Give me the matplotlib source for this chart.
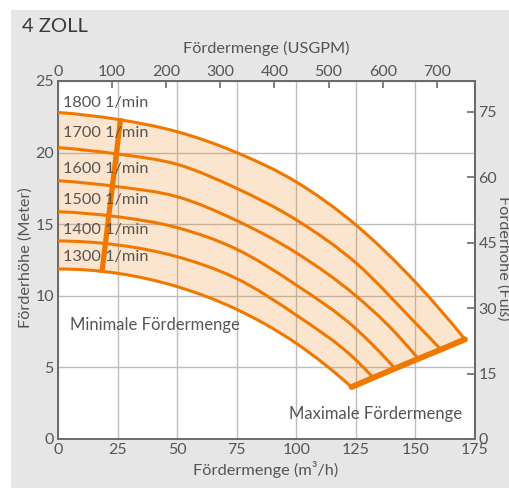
import matplotlib
matplotlib.use("Agg")
import matplotlib.pyplot as plt
from matplotlib.patches import Rectangle, PathPatch
from matplotlib.path import Path
import numpy as np

plt.rcParams['font.family'] = ['Lato', 'DejaVu Sans']

# ---- data ----
speeds = ["1800 1/min", "1700 1/min", "1600 1/min", "1500 1/min", "1400 1/min", "1300 1/min"]

q1800 = [0, 25, 50, 75, 100, 125, 150, 170.8]
h1800 = [22.8, 22.32, 21.46, 20.0, 17.95, 14.95, 10.95, 6.96]
q1700 = [0, 25, 50, 75, 100, 125, 150, 160.7]
h1700 = [20.35, 19.9, 19.18, 17.5, 15.3, 12.3, 8.1, 6.25]
q1600 = [0, 25, 50, 75, 100, 125, 137.9, 151.2]
h1600 = [18.04, 17.62, 16.92, 15.25, 13.0, 10.0, 8.05, 5.6]
q1500 = [0, 25, 50, 75, 100, 125, 141.4]
h1500 = [15.87, 15.52, 14.76, 13.25, 10.75, 7.7, 4.92]
q1400 = [0, 25, 50, 75, 100, 125, 132.3]
h1400 = [13.83, 13.55, 12.73, 11.2, 8.65, 5.52, 4.28]
q1300 = [0, 25, 50, 75, 100, 123.2]
h1300 = [11.87, 11.57, 10.64, 9.05, 6.68, 3.63]

curves_q = [q1800, q1700, q1600, q1500, q1400, q1300]
curves_h = [h1800, h1700, h1600, h1500, h1400, h1300]

label_h = [23.45, 21.35, 18.85, 16.7, 14.6, 12.7]

min_q = [26.3, 18.4]
min_h = [22.4, 11.6]

x_ticks = [0, 25, 50, 75, 100, 125, 150, 175]
y_ticks = [0, 5, 10, 15, 20, 25]
gpm_ticks = [0, 100, 200, 300, 400, 500, 600, 700]
ft_ticks = [0, 15, 30, 45, 60, 75]

M3H_TO_GPM = 4.403
M_TO_FT = 3.281

ORANGE = '#f07800'
TXT = '#555555'
FS = 11.5


def smooth_verts(q, h):
    """Bezier vertices of a smooth curve (cubic Hermite) through the given points."""
    x = np.asarray(q, float)
    y = np.asarray(h, float)
    n = len(x)
    d = np.diff(x)
    s = np.diff(y) / d
    m = np.empty(n)
    for i in range(1, n - 1):
        m[i] = (d[i] * s[i - 1] + d[i - 1] * s[i]) / (d[i - 1] + d[i])
    m[0] = ((2 * d[0] + d[1]) * s[0] - d[0] * s[1]) / (d[0] + d[1])
    m[-1] = ((2 * d[-1] + d[-2]) * s[-1] - d[-1] * s[-2]) / (d[-1] + d[-2])
    verts = [(x[0], y[0])]
    for i in range(n - 1):
        dx = d[i] / 3.0
        verts += [(x[i] + dx, y[i] + m[i] * dx),
                  (x[i + 1] - dx, y[i + 1] - m[i + 1] * dx),
                  (x[i + 1], y[i + 1])]
    return verts


fig = plt.figure(figsize=(5.09, 4.88), dpi=100)
fig.patches.append(Rectangle((11/509, 0), 1 - 11/509, 1 - 10/488,
                             transform=fig.transFigure, facecolor='#e6e6e6',
                             edgecolor='none', zorder=-10))

ax = fig.add_axes([58/509, 49/488, 417/509, 358/488])
ax.set_facecolor('white')
ax.set_xlim(0, 175)
ax.set_ylim(0, 25)
ax.set_xticks(x_ticks)
ax.set_yticks(y_ticks)
ax.grid(True, color='#bdbdbd', linewidth=1.0, zorder=0)
ax.set_axisbelow(True)
for s in ax.spines.values():
    s.set_color('#6a6a6a')
    s.set_linewidth(1.4)
ax.tick_params(axis='both', length=0, labelsize=FS, labelcolor=TXT)
ax.tick_params(axis='x', pad=3)
ax.tick_params(axis='y', pad=3)

# filled band (bounded by 1800 curve, max line, 1300 curve, and q=0)
max_q = [c[-1] for c in curves_q]
max_h = [c[-1] for c in curves_h]
v_top = smooth_verts(q1800, h1800)
v_bot = smooth_verts(q1300, h1300)[::-1]
verts = (list(v_top) + list(zip(max_q[1:], max_h[1:])) + list(v_bot[1:]) + [v_top[0]])
codes = ([Path.MOVETO] + [Path.CURVE4] * (len(v_top) - 1) + [Path.LINETO] * (len(max_q) - 1)
         + [Path.CURVE4] * (len(v_bot) - 1) + [Path.CLOSEPOLY])
ax.add_patch(PathPatch(Path(verts, codes), facecolor=ORANGE, alpha=0.19, edgecolor='none', zorder=1))

for q, h in zip(curves_q, curves_h):
    v = smooth_verts(q, h)
    c = [Path.MOVETO] + [Path.CURVE4] * (len(v) - 1)
    ax.add_patch(PathPatch(Path(v, c), facecolor='none', edgecolor=ORANGE,
                           linewidth=2.2, zorder=3, capstyle='butt'))

ax.plot(min_q, min_h, color=ORANGE, linewidth=3.8, zorder=4, solid_capstyle='butt')
ax.plot(max_q, max_h, color=ORANGE, linewidth=4.2, zorder=4, solid_capstyle='round')

for lab, yh in zip(speeds, label_h):
    ax.text(2.1, yh, lab, fontsize=11.8, color=TXT, va='center', ha='left', zorder=5)

ax.text(5.0, 7.95, "Minimale Fördermenge", fontsize=12, color=TXT, va='center', ha='left', zorder=5)
ax.text(169.5, 1.75, "Maximale Fördermenge", fontsize=12, color=TXT, va='center', ha='right', zorder=5)

# secondary axes
top = ax.secondary_xaxis('top', functions=(lambda q: q * M3H_TO_GPM, lambda g: g / M3H_TO_GPM))
top.set_xticks(gpm_ticks)
top.tick_params(direction='in', length=5, width=1.2, color='#6a6a6a', labelsize=FS, labelcolor=TXT, pad=1.5)
top.spines['top'].set_color('#6a6a6a')
top.spines['top'].set_linewidth(1.4)

right = ax.secondary_yaxis('right', functions=(lambda m: m * M_TO_FT, lambda f: f / M_TO_FT))
right.set_yticks(ft_ticks)
right.tick_params(direction='in', length=6, width=1.2, color='#6a6a6a', labelsize=FS, labelcolor=TXT, pad=2.5)
right.spines['right'].set_color('#6a6a6a')
right.spines['right'].set_linewidth(1.4)

# labels
fig.text(22/509, 1 - 27/488, "4 ZOLL", fontsize=14.5, color='#3a3a3a', ha='left', va='center')
fig.text(266/509, 1 - 48/488, "Fördermenge (USGPM)", fontsize=11.7, color=TXT, ha='center', va='center')
fig.text(266/509, 1 - 469/488, "Fördermenge (m³/h)", fontsize=11.8, color=TXT, ha='center', va='center')
fig.text(26/509, 1 - 258/488, "Förderhöhe (Meter)", fontsize=11.7, color=TXT, ha='center', va='center', rotation=90)
fig.text(503/509, 1 - 258/488, "Förderhöhe (Fuß)", fontsize=11.7, color=TXT, ha='center', va='center', rotation=270)

fig.savefig("out.png", dpi=100)
